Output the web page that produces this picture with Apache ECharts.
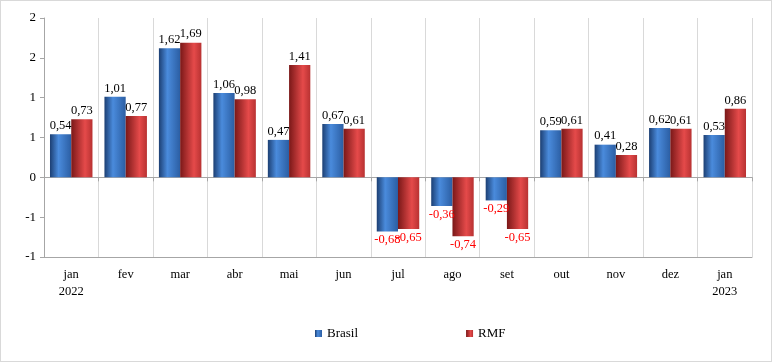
<!DOCTYPE html>
<html><head><meta charset="utf-8">
<script src="https://cdn.jsdelivr.net/npm/echarts@6/dist/echarts.min.js"></script>
<style>html,body{margin:0;padding:0;background:#fff}#c{width:770px;height:360px;border:1px solid #d9d9d9}</style>
</head><body><div id="c"></div>
<script>
var categories = ['jan\n2022','fev','mar','abr','mai','jun','jul','ago','set','out','nov','dez','jan\n2023'];
var brasil = [0.54,1.01,1.62,1.06,0.47,0.67,-0.68,-0.36,-0.29,0.59,0.41,0.62,0.53];
var rmf = [0.73,0.77,1.69,0.98,1.41,0.61,-0.65,-0.74,-0.65,0.61,0.28,0.61,0.86];
var yTickLabels = ['-1','-1','0','1','1','2','2'];
var seriesNames = ['Brasil','RMF'];

var FONT = 'Liberation Serif';
function fmt(v){return v.toFixed(2).replace('.',',');}
function grad(c1,c2,c3){
  return new echarts.graphic.LinearGradient(0,0,1,0,[{offset:0,color:c1},{offset:0.4,color:c2},{offset:1,color:c3}]);
}
function items(arr){
  return arr.map(function(v){
    return {value:v,label:{position:v<0?'bottom':'top',color:v<0?'#ff0000':'#000'}};
  });
}
var chart = echarts.init(document.getElementById('c'));
chart.setOption({
  animation:false,
  textStyle:{fontFamily:FONT},
  grid:{left:43,right:19,top:17,bottom:104},
  legend:{bottom:16,left:309,itemWidth:7,itemHeight:7,itemGap:108,icon:'rect',
    formatter:function(n){return '{t|'+n+'}';},
    textStyle:{fontFamily:FONT,fontSize:13,color:'#000',
      rich:{t:{fontFamily:FONT,fontSize:13,color:'#000'}}},
    data:seriesNames},
  xAxis:[{
    type:'category',data:categories,position:'bottom',
    axisLine:{onZero:false,lineStyle:{color:'#a6a6a6',width:1}},
    axisTick:{show:false},
    axisLabel:{fontFamily:FONT,fontSize:12.5,color:'#000',margin:9,lineHeight:17},
    splitLine:{show:true,lineStyle:{color:'#d9d9d9',width:1}}
  },{
    type:'category',data:categories,position:'bottom',
    axisLine:{onZero:true,lineStyle:{color:'#a6a6a6',width:1}},
    axisTick:{show:true,length:4,lineStyle:{color:'#a6a6a6'}},
    axisLabel:{show:false},splitLine:{show:false}
  }],
  yAxis:{type:'value',min:-1,max:2,interval:0.5,
    axisLine:{show:true,lineStyle:{color:'#a6a6a6'}},
    axisTick:{show:true,length:4,lineStyle:{color:'#a6a6a6'}},
    splitLine:{show:false},
    axisLabel:{fontFamily:FONT,fontSize:13,color:'#000',margin:8,
      formatter:function(v){var i=Math.round((v+1)/0.5);return yTickLabels[i];}}
  },
  series:[{
    name:'Brasil',type:'bar',xAxisIndex:0,data:items(brasil),barGap:'0%',barCategoryGap:'22%',
    itemStyle:{color:grad('#1c3f73','#4a8bdc','#2b5ea3')},
    label:{show:true,fontFamily:FONT,fontSize:12.5,distance:2,formatter:function(p){return fmt(p.value);}}
  },{
    name:'RMF',type:'bar',xAxisIndex:0,data:items(rmf),barGap:'0%',barCategoryGap:'22%',
    itemStyle:{color:new echarts.graphic.LinearGradient(0,0,1,0,[{offset:0,color:'#7a1818'},{offset:0.65,color:'#e54a4a'},{offset:1,color:'#b83232'}])},
    label:{show:true,fontFamily:FONT,fontSize:12.5,distance:2,formatter:function(p){return fmt(p.value);}}
  }]
});
</script></body></html>
